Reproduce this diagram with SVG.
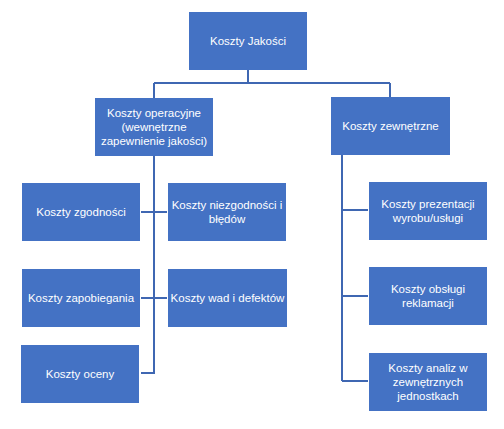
<svg xmlns="http://www.w3.org/2000/svg" width="504" height="429" viewBox="0 0 504 429">
<style>
.box{fill:#4472C4;}
.t{fill:#FFFFFF;font-family:"Liberation Sans",Arial,sans-serif;font-size:11.5px;text-anchor:middle;}
.c{stroke:#3F67B2;stroke-width:2;fill:none;}
</style>
<rect width="504" height="429" fill="#FFFFFF"/>
<g id="connectors">
<path class="c" d="M248 70V83M154 83H390M154 83V98M390 83V97"/>
<path class="c" d="M154 156V373H141M141 212H167M141 298H167"/>
<path class="c" d="M342 155V381M342 210H368M342 296H368M342 381H368"/>
</g>
<g id="n-jakosci"><rect class="box" x="189" y="12" width="118" height="58"/><text class="t" x="248" y="45">Koszty Jakości</text></g>
<g id="n-operacyjne"><rect class="box" x="95" y="98" width="118" height="58"/><text class="t" x="154" y="117">Koszty operacyjne</text><text class="t" x="154" y="131">(wewnętrzne</text><text class="t" x="154" y="145">zapewnienie jakości)</text></g>
<g id="n-zewnetrzne"><rect class="box" x="331" y="97" width="119" height="58"/><text class="t" x="390.5" y="130">Koszty zewnętrzne</text></g>
<g id="n-zgodnosci"><rect class="box" x="22" y="183" width="118" height="58"/><text class="t" x="81" y="216">Koszty zgodności</text></g>
<g id="n-niezgodnosci"><rect class="box" x="168" y="183" width="118" height="58"/><text class="t" x="227" y="209">Koszty niezgodności i</text><text class="t" x="227" y="223">błędów</text></g>
<g id="n-zapobiegania"><rect class="box" x="22" y="269" width="118" height="58"/><text class="t" x="81" y="302">Koszty zapobiegania</text></g>
<g id="n-wad"><rect class="box" x="168" y="269" width="119" height="58"/><text class="t" x="227.5" y="302">Koszty wad i defektów</text></g>
<g id="n-oceny"><rect class="box" x="21" y="345" width="118" height="58"/><text class="t" x="80" y="378">Koszty oceny</text></g>
<g id="n-prezentacji"><rect class="box" x="369" y="182" width="118" height="58"/><text class="t" x="428" y="208">Koszty prezentacji</text><text class="t" x="428" y="222">wyrobu/usługi</text></g>
<g id="n-reklamacji"><rect class="box" x="369" y="267" width="118" height="58"/><text class="t" x="428" y="293">Koszty obsługi</text><text class="t" x="428" y="307">reklamacji</text></g>
<g id="n-analiz"><rect class="box" x="369" y="353" width="118" height="58"/><text class="t" x="428" y="372">Koszty analiz w</text><text class="t" x="428" y="386">zewnętrznych</text><text class="t" x="428" y="400">jednostkach</text></g>
</svg>
